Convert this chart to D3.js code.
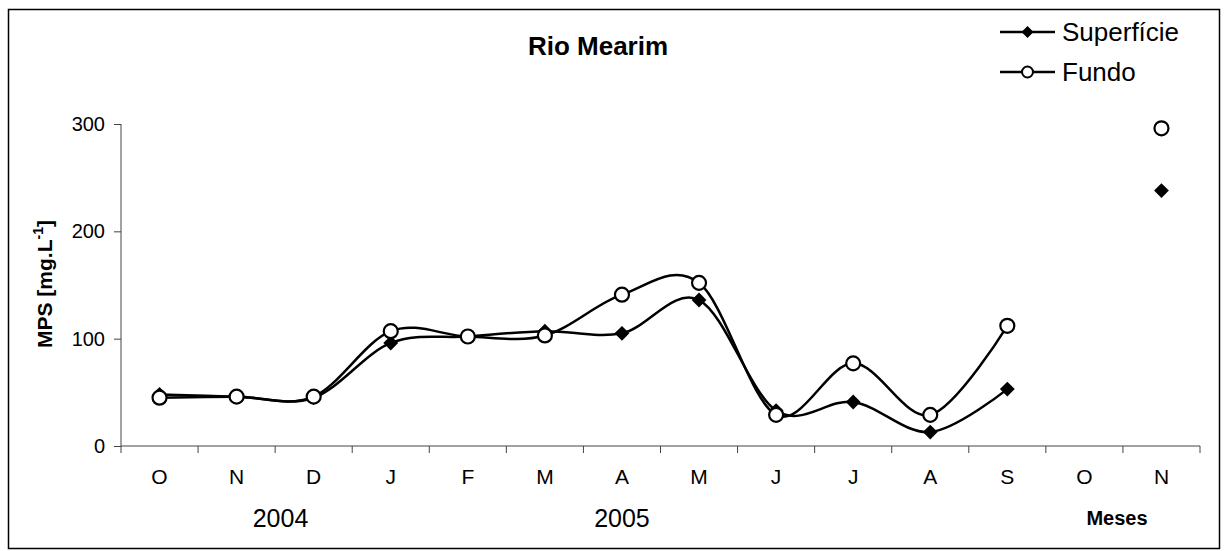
<!DOCTYPE html>
<html>
<head>
<meta charset="utf-8">
<script src="https://cdn.jsdelivr.net/npm/d3@7"></script>
<style>
  body { margin: 0; background: #fff; }
  svg text { font-family: "Liberation Sans", Arial, sans-serif; fill: #000; }
</style>
</head>
<body>
<div id="chart"></div>
<script>
// data
var months = ["O", "N", "D", "J", "F", "M", "A", "M", "J", "J", "A", "S", "O", "N"];
var superficie = [48, 46, 45, 96, 102, 107, 105, 136, 33, 41, 13, 53, null, 238];
var fundo = [45, 46, 46, 107, 102, 103, 141, 152, 29, 77, 29, 112, null, 296];
var yTicks = [0, 100, 200, 300];
var years = [{label: "2004", at: 2.07}, {label: "2005", at: 6.5}];

var svgWidth = 1227;
var svgHeight = 551;

var svg = d3.select("#chart")
  .append("svg")
  .attr("width", svgWidth)
  .attr("height", svgHeight);

// outer frame
svg.append("rect")
  .attr("x", 8.5).attr("y", 9.5)
  .attr("width", 1211).attr("height", 539)
  .attr("fill", "none")
  .attr("stroke", "#000")
  .attr("stroke-width", 1.5);

var plotLeft = 121, plotRight = 1200, plotTop = 124, plotBottom = 446;

var idx = d3.range(months.length);
var xBand = d3.scaleBand().domain(idx).range([plotLeft, plotRight]);
var xScale = function(i) { return xBand(i) + xBand.bandwidth() / 2; };

var yScale = d3.scaleLinear().domain([0, 300]).range([plotBottom, plotTop]);

// y axis
var yAxis = d3.axisLeft(yScale).tickValues(yTicks).tickSize(7).tickPadding(9);
var gy = svg.append("g")
  .attr("transform", "translate(" + plotLeft + ",0)")
  .call(yAxis);
gy.select(".domain").attr("stroke", "#444").attr("d", "M0," + plotTop + "V" + plotBottom);
gy.selectAll(".tick line").attr("stroke", "#444");
gy.selectAll("text").attr("font-size", 20).attr("fill", "#000");

// x axis: ticks between categories
var xAxis = d3.axisBottom(xBand).tickSize(0).tickFormat(function(i) { return months[i]; });
var gx = svg.append("g")
  .attr("transform", "translate(0," + plotBottom + ")")
  .call(xAxis);
gx.select(".domain").attr("stroke", "#444").attr("d", "M" + plotLeft + ",0H" + plotRight);
gx.selectAll(".tick text").attr("font-size", 21).attr("dy", 0).attr("y", 38);
gx.selectAll(".sep")
  .data(d3.range(months.length + 1))
  .enter()
  .append("line")
  .attr("x1", function(i) { return plotLeft + i * xBand.step(); })
  .attr("x2", function(i) { return plotLeft + i * xBand.step(); })
  .attr("y1", 0).attr("y2", 7)
  .attr("stroke", "#444");

// years and axis title
svg.selectAll(".year")
  .data(years)
  .enter()
  .append("text")
  .attr("x", function(d) { return plotLeft + d.at * xBand.step(); })
  .attr("y", 527)
  .attr("text-anchor", "middle")
  .attr("font-size", 25)
  .text(function(d) { return d.label; });

svg.append("text")
  .attr("x", 1117).attr("y", 525)
  .attr("text-anchor", "middle")
  .attr("font-size", 20)
  .attr("font-weight", "bold")
  .text("Meses");

// y label
var ylab = svg.append("text")
  .attr("transform", "translate(52,284) rotate(-90)")
  .attr("text-anchor", "middle")
  .attr("font-size", 21)
  .attr("font-weight", "bold");
ylab.append("tspan").text("MPS [mg.L");
ylab.append("tspan").attr("font-size", 14).attr("dy", -9).text("-1");
ylab.append("tspan").attr("dy", 9).text("]");

// title
svg.append("text")
  .attr("x", 598).attr("y", 55)
  .attr("text-anchor", "middle")
  .attr("font-size", 26)
  .attr("font-weight", "bold")
  .text("Rio Mearim");

// lines
var line = d3.line()
  .defined(function(d) { return d != null; })
  .x(function(d, i) { return xScale(i); })
  .y(function(d) { return yScale(d); })
  .curve(d3.curveCatmullRom.alpha(0));

function drawSeries(values, kind) {
  svg.append("path")
    .datum(values)
    .attr("d", line)
    .attr("fill", "none")
    .attr("stroke", "#000")
    .attr("stroke-width", 2.5);
  var pts = values.map(function(v, i) { return {v: v, i: i}; }).filter(function(d) { return d.v != null; });
  if (kind === "diamond") {
    svg.selectAll(null)
      .data(pts)
      .enter()
      .append("path")
      .attr("d", d3.symbol().type(d3.symbolSquare).size(110))
      .attr("transform", function(d) { return "translate(" + xScale(d.i) + "," + yScale(d.v) + ") rotate(45)"; })
      .attr("fill", "#000");
  } else {
    svg.selectAll(null)
      .data(pts)
      .enter()
      .append("circle")
      .attr("cx", function(d) { return xScale(d.i); })
      .attr("cy", function(d) { return yScale(d.v); })
      .attr("r", 7)
      .attr("fill", "#fff")
      .attr("stroke", "#000")
      .attr("stroke-width", 2.2);
  }
}
drawSeries(superficie, "diamond");
drawSeries(fundo, "circle");

// legend
var legend = [{name: "Superfície", kind: "diamond", y: 32}, {name: "Fundo", kind: "circle", y: 72}];
legend.forEach(function(d) {
  var g = svg.append("g").attr("transform", "translate(1000," + d.y + ")");
  g.append("line").attr("x1", 0).attr("x2", 55).attr("stroke", "#000").attr("stroke-width", 2.5);
  if (d.kind === "diamond") {
    g.append("path")
      .attr("d", d3.symbol().type(d3.symbolSquare).size(72))
      .attr("transform", "translate(27.5,0) rotate(45)");
  } else {
    g.append("circle").attr("cx", 27.5).attr("r", 5.5)
      .attr("fill", "#fff").attr("stroke", "#000").attr("stroke-width", 2);
  }
  g.append("text").attr("x", 62).attr("y", 9).attr("font-size", 26).text(d.name);
});
</script>
</body>
</html>
